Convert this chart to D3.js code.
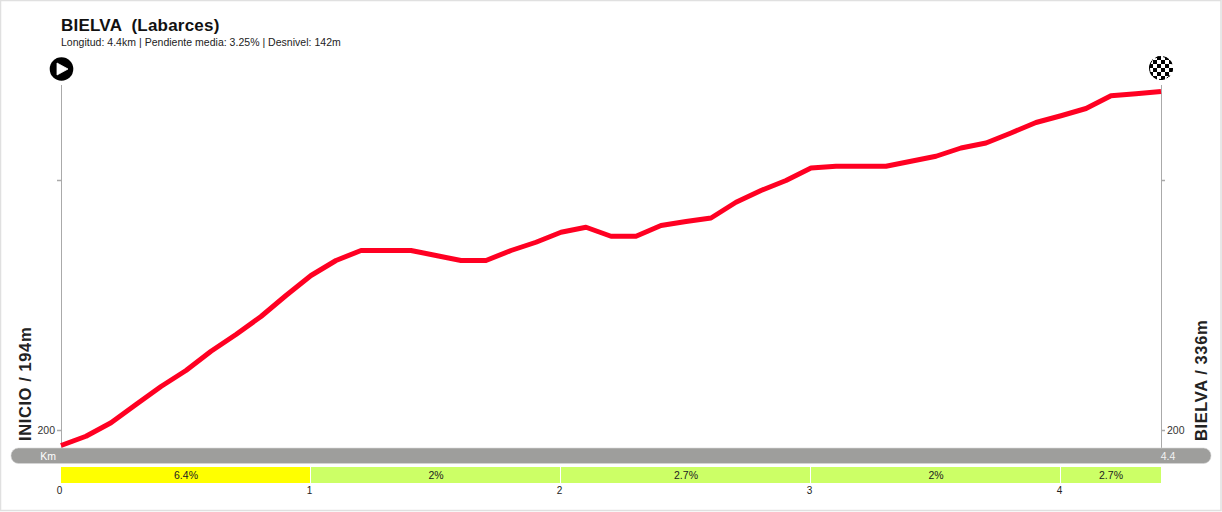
<!DOCTYPE html>
<html><head><meta charset="utf-8">
<script src="https://cdn.jsdelivr.net/npm/d3@7"></script>
<style>
html,body{margin:0;padding:0;background:#fff}
svg{display:block}
text{font-family:"Liberation Sans",Arial,sans-serif;white-space:pre}
</style></head><body>
<svg id="c" width="1222" height="512"></svg>
<script>
const title = "BIELVA  (Labarces)";
const subtitle = "Longitud: 4.4km | Pendiente media: 3.25% | Desnivel: 142m";
const startLabel = "INICIO / 194m";
const endLabel = "BIELVA / 336m";
const elevations = [194,197.7,203.1,210.4,217.6,224,231.7,238.4,245.6,254,262,268,272,272,272,270,268,268,272,275.3,279.3,281.3,277.7,277.7,282,283.6,285,291.3,296,300,305,305.7,305.7,305.7,307.7,309.7,313,315,319,323.2,325.9,328.8,333.9,334.7,335.6];
const stepKm = 0.1;
const segStart = [0,1,2,3,4];
const segEnd = [1,2,3,4,4.4];
const segGrade = [6.4,2,2.7,2,2.7];
const segColor = ["#ffff00","#ccff66","#ccff66","#ccff66","#ccff66"];
const kmTicks = [0,1,2,3,4];
const elevTicks = [200,300];

const svg = d3.select("#c");
const x = d3.scaleLinear().domain([0,4.4]).range([61,1161]);
const y = d3.scaleLinear().domain([200,300]).range([430.5,180.5]);
const axisColor = "#aaaaaa";

// page frame
svg.append("rect").attr("x",0.5).attr("y",0.5).attr("width",1220.5).attr("height",510)
  .attr("fill","#fff").attr("stroke","#e0e0e0").attr("stroke-width",1.5);

// elevation axes
function styleAxis(g){
  g.selectAll("path").remove();
  g.selectAll("line").attr("stroke",axisColor).attr("stroke-width",1.5);
  g.selectAll("text").attr("font-size",10.5).attr("fill","#333");
}
const yDomain=[85,448];
[x(0),x(4.4)].forEach(px=>svg.append("line").attr("x1",px+0.5).attr("x2",px+0.5)
  .attr("y1",yDomain[0]).attr("y2",yDomain[1]).attr("stroke",axisColor).attr("stroke-width",1));
const fmt = d => d===200 ? "200" : "";
svg.append("g").attr("transform",`translate(${x(0)},0)`)
  .call(d3.axisLeft(y).offset(0).tickValues(elevTicks).tickFormat(fmt).tickSize(4).tickPadding(2)).call(styleAxis);
svg.append("g").attr("transform",`translate(${x(4.4)},0)`)
  .call(d3.axisRight(y).offset(0).tickValues(elevTicks).tickFormat(fmt).tickSize(4).tickPadding(2)).call(styleAxis);

// km band
svg.append("rect").attr("x",11).attr("y",448).attr("width",1200).attr("height",15.5).attr("rx",7.5)
  .attr("fill","#9e9e9c").attr("stroke","#d8d8d8").attr("stroke-width",0.6);
svg.append("text").attr("x",48).attr("y",460).attr("text-anchor","middle").attr("font-size",10.5).attr("fill","#fff").text("Km");
svg.append("text").attr("x",x(4.4)+7).attr("y",460).attr("text-anchor","middle").attr("font-size",10.5).attr("fill","#f2f2f2").text("4.4");

// grade segments
const segs = segStart.map((s,i)=>({s,e:segEnd[i],g:segGrade[i],c:segColor[i]}));
svg.selectAll("rect.seg").data(segs).join("rect").attr("class","seg")
  .attr("x",d=>x(d.s)).attr("y",467).attr("width",d=>x(d.e)-x(d.s)).attr("height",16)
  .attr("fill",d=>d.c).attr("stroke","none");
svg.selectAll("line.sep").data(segs.slice(1)).join("line").attr("class","sep")
  .attr("x1",d=>x(d.s)-0.5).attr("x2",d=>x(d.s)-0.5).attr("y1",467).attr("y2",483).attr("stroke","#fff").attr("stroke-width",1);
svg.selectAll("text.seg").data(segs).join("text").attr("class","seg")
  .attr("x",d=>(x(d.s)+x(d.e))/2).attr("y",479).attr("text-anchor","middle").attr("font-size",10.5).attr("fill","#222")
  .text(d=>d.g+"%");

// km axis
const kmAxis = svg.append("g").attr("transform","translate(-2,483)")
  .call(d3.axisBottom(x).tickValues(kmTicks).tickFormat(d3.format("d")).tickSize(0).tickPadding(4));
kmAxis.select("path").remove();
kmAxis.selectAll("text").attr("font-size",10).attr("fill","#222");

// profile
const line = d3.line().x((d,i)=>x(i*stepKm)).y(d=>y(d));
svg.append("path").datum(elevations).attr("d",line).attr("fill","none")
  .attr("stroke","#ff0022").attr("stroke-width",5).attr("stroke-linejoin","round");

// titles
svg.append("text").attr("x",61).attr("y",31).attr("font-size",17).attr("letter-spacing",0.22).attr("font-weight","bold").attr("fill","#111").text(title);
svg.append("text").attr("x",61).attr("y",46).attr("font-size",10.5).attr("letter-spacing",0.02).attr("fill","#222").text(subtitle);
svg.append("text").attr("transform","translate(31,441) rotate(-90)").attr("font-size",16.5).attr("letter-spacing",0.6).attr("font-weight","bold").attr("fill","#222").text(startLabel);
svg.append("text").attr("transform","translate(1207,441) rotate(-90)").attr("font-size",16.5).attr("letter-spacing",0.6).attr("font-weight","bold").attr("fill","#222").text(endLabel);

// start icon
const st = svg.append("g").attr("transform",`translate(${x(0)+0.5},69)`);
st.append("circle").attr("r",11.8).attr("fill","#000");
st.append("path").attr("d","M-4.5,-6 L6.5,0 L-4.5,6 Z").attr("fill","#fff").attr("stroke","#fff").attr("stroke-linejoin","round").attr("stroke-width",0.8);

// finish icon
const cell = 4;
const defs = svg.append("defs");
const pat = defs.append("pattern").attr("id","chk").attr("patternUnits","userSpaceOnUse").attr("width",cell*2).attr("height",cell*2).attr("x",x(4.4)-12).attr("y",56);
pat.append("rect").attr("width",cell*2).attr("height",cell*2).attr("fill","#fff");
pat.append("rect").attr("width",cell).attr("height",cell).attr("fill","#000");
pat.append("rect").attr("x",cell).attr("y",cell).attr("width",cell).attr("height",cell).attr("fill","#000");
svg.append("circle").attr("cx",x(4.4)).attr("cy",68).attr("r",12).attr("fill","url(#chk)");
svg.append("circle").attr("cx",x(4.4)).attr("cy",68).attr("r",11.5).attr("fill","none").attr("stroke","#000").attr("stroke-width",1).attr("stroke-dasharray","4 4");
</script>
</body></html>
